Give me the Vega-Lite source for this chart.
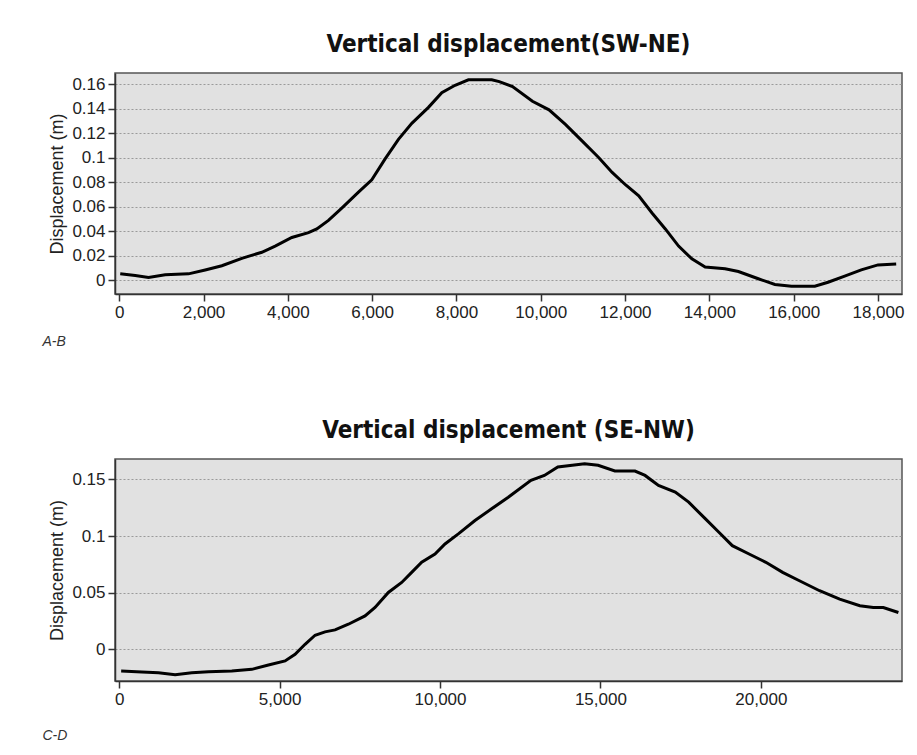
{
  "$schema": "https://vega.github.io/schema/vega-lite/v6.json",
  "background": "white",
  "padding": {"left": 41, "top": 32, "right": 10, "bottom": 5},
  "spacing": 69,
  "datasets": {
    "ab": [
      {"d": 24, "v": 0.0054}, {"d": 380, "v": 0.004}, {"d": 696, "v": 0.0024}, {"d": 1091, "v": 0.0046},
      {"d": 1644, "v": 0.0054}, {"d": 2040, "v": 0.0086}, {"d": 2435, "v": 0.012}, {"d": 2909, "v": 0.018},
      {"d": 3383, "v": 0.023}, {"d": 3700, "v": 0.028}, {"d": 4095, "v": 0.035}, {"d": 4490, "v": 0.039},
      {"d": 4688, "v": 0.042}, {"d": 4964, "v": 0.049}, {"d": 5280, "v": 0.059}, {"d": 5676, "v": 0.072},
      {"d": 5992, "v": 0.082}, {"d": 6308, "v": 0.099}, {"d": 6624, "v": 0.115}, {"d": 6941, "v": 0.128},
      {"d": 7336, "v": 0.141}, {"d": 7652, "v": 0.153}, {"d": 7968, "v": 0.159}, {"d": 8284, "v": 0.1635},
      {"d": 8838, "v": 0.1635}, {"d": 9015, "v": 0.162}, {"d": 9330, "v": 0.158}, {"d": 9803, "v": 0.146},
      {"d": 10197, "v": 0.139}, {"d": 10591, "v": 0.127}, {"d": 10985, "v": 0.1135}, {"d": 11379, "v": 0.1},
      {"d": 11694, "v": 0.088}, {"d": 12009, "v": 0.078}, {"d": 12325, "v": 0.069}, {"d": 12640, "v": 0.055},
      {"d": 12955, "v": 0.042}, {"d": 13270, "v": 0.028}, {"d": 13585, "v": 0.0176}, {"d": 13900, "v": 0.011},
      {"d": 14373, "v": 0.0095}, {"d": 14689, "v": 0.0073}, {"d": 15161, "v": 0.0014}, {"d": 15555, "v": -0.0032},
      {"d": 15949, "v": -0.0046}, {"d": 16501, "v": -0.0046}, {"d": 16816, "v": -0.0014}, {"d": 17210, "v": 0.0035},
      {"d": 17604, "v": 0.0086}, {"d": 18000, "v": 0.0127}, {"d": 18432, "v": 0.0135}
    ],
    "cd": [
      {"d": 62, "v": -0.0192}, {"d": 706, "v": -0.02}, {"d": 1225, "v": -0.0207}, {"d": 1745, "v": -0.0224},
      {"d": 2264, "v": -0.0207}, {"d": 2783, "v": -0.0198}, {"d": 3510, "v": -0.0192}, {"d": 4133, "v": -0.0177},
      {"d": 4652, "v": -0.0139}, {"d": 5171, "v": -0.0103}, {"d": 5483, "v": -0.0044}, {"d": 5794, "v": 0.0044},
      {"d": 6106, "v": 0.0124}, {"d": 6417, "v": 0.0154}, {"d": 6729, "v": 0.0171}, {"d": 7144, "v": 0.0221},
      {"d": 7663, "v": 0.0295}, {"d": 7975, "v": 0.0369}, {"d": 8390, "v": 0.0502}, {"d": 8806, "v": 0.059},
      {"d": 9117, "v": 0.0679}, {"d": 9429, "v": 0.0768}, {"d": 9844, "v": 0.0841}, {"d": 10156, "v": 0.093},
      {"d": 10571, "v": 0.1019}, {"d": 11090, "v": 0.1137}, {"d": 11609, "v": 0.124}, {"d": 12128, "v": 0.1343},
      {"d": 12835, "v": 0.1491}, {"d": 13253, "v": 0.1535}, {"d": 13672, "v": 0.1609}, {"d": 14508, "v": 0.1639},
      {"d": 14927, "v": 0.1624}, {"d": 15450, "v": 0.1574}, {"d": 16077, "v": 0.1574}, {"d": 16391, "v": 0.1535},
      {"d": 16810, "v": 0.1447}, {"d": 17333, "v": 0.1388}, {"d": 17751, "v": 0.1299}, {"d": 18274, "v": 0.1151},
      {"d": 18693, "v": 0.1033}, {"d": 19111, "v": 0.0915}, {"d": 19634, "v": 0.0841}, {"d": 20157, "v": 0.0768},
      {"d": 20680, "v": 0.0679}, {"d": 21203, "v": 0.0605}, {"d": 21831, "v": 0.0517}, {"d": 22458, "v": 0.0443},
      {"d": 23086, "v": 0.0384}, {"d": 23504, "v": 0.0369}, {"d": 23818, "v": 0.0369}, {"d": 24288, "v": 0.0325}
    ]
  },
  "vconcat": [
    {
      "title": {"text": "Vertical displacement(SW-NE)", "offset": 16},
      "width": 787,
      "height": 221,
      "data": {"name": "ab"},
      "mark": {"type": "line", "color": "#000", "strokeWidth": 3, "clip": true},
      "encoding": {
        "x": {
          "field": "d", "type": "quantitative",
          "scale": {"domain": [-100, 18570], "nice": false, "zero": false},
          "axis": {"values": [0, 2000, 4000, 6000, 8000, 10000, 12000, 14000, 16000, 18000], "format": ",d", "grid": false,
                   "title": "A-B", "titleAnchor": "start", "titleAlign": "left", "titleX": -73, "titleY": 47,
                   "titleBaseline": "middle", "titleFontStyle": "italic", "titleFontSize": 14, "titleColor": "#333"}
        },
        "y": {
          "field": "v", "type": "quantitative",
          "scale": {"domain": [-0.011, 0.169], "nice": false, "zero": false},
          "axis": {"values": [0, 0.02, 0.04, 0.06, 0.08, 0.1, 0.12, 0.14, 0.16], "format": "~g", "title": "Displacement (m)"}
        }
      }
    },
    {
      "title": {"text": "Vertical displacement (SE-NW)", "offset": 16},
      "width": 787,
      "height": 222,
      "data": {"name": "cd"},
      "mark": {"type": "line", "color": "#000", "strokeWidth": 3, "clip": true},
      "encoding": {
        "x": {
          "field": "d", "type": "quantitative",
          "scale": {"domain": [-130, 24400], "nice": false, "zero": false},
          "axis": {"values": [0, 5000, 10000, 15000, 20000], "format": ",d", "grid": false,
                   "title": "C-D", "titleAnchor": "start", "titleAlign": "left", "titleX": -73, "titleY": 54,
                   "titleBaseline": "middle", "titleFontStyle": "italic", "titleFontSize": 14, "titleColor": "#333"}
        },
        "y": {
          "field": "v", "type": "quantitative",
          "scale": {"domain": [-0.028, 0.168], "nice": false, "zero": false},
          "axis": {"values": [0, 0.05, 0.1, 0.15], "format": "~g", "title": "Displacement (m)"}
        }
      }
    }
  ],
  "config": {
    "view": {"fill": "#e1e1e1", "stroke": "#555", "strokeWidth": 1.5},
    "axis": {
      "gridColor": "#9a9a9a", "gridDash": [2, 2], "gridWidth": 1.2,
      "domainColor": "#333", "domainWidth": 1.5, "tickColor": "#333", "tickWidth": 1.5, "tickSize": 7,
      "labelFont": "Liberation Sans", "labelFontSize": 17, "labelColor": "#222", "labelPadding": 3,
      "titleFont": "Liberation Sans", "titleFontSize": 18, "titleFontWeight": "normal", "titleColor": "#222", "titlePadding": 5
    },
    "title": {"font": "DejaVu Sans Condensed", "fontSize": 24, "fontWeight": "bold", "color": "#111", "anchor": "middle"}
  }
}
